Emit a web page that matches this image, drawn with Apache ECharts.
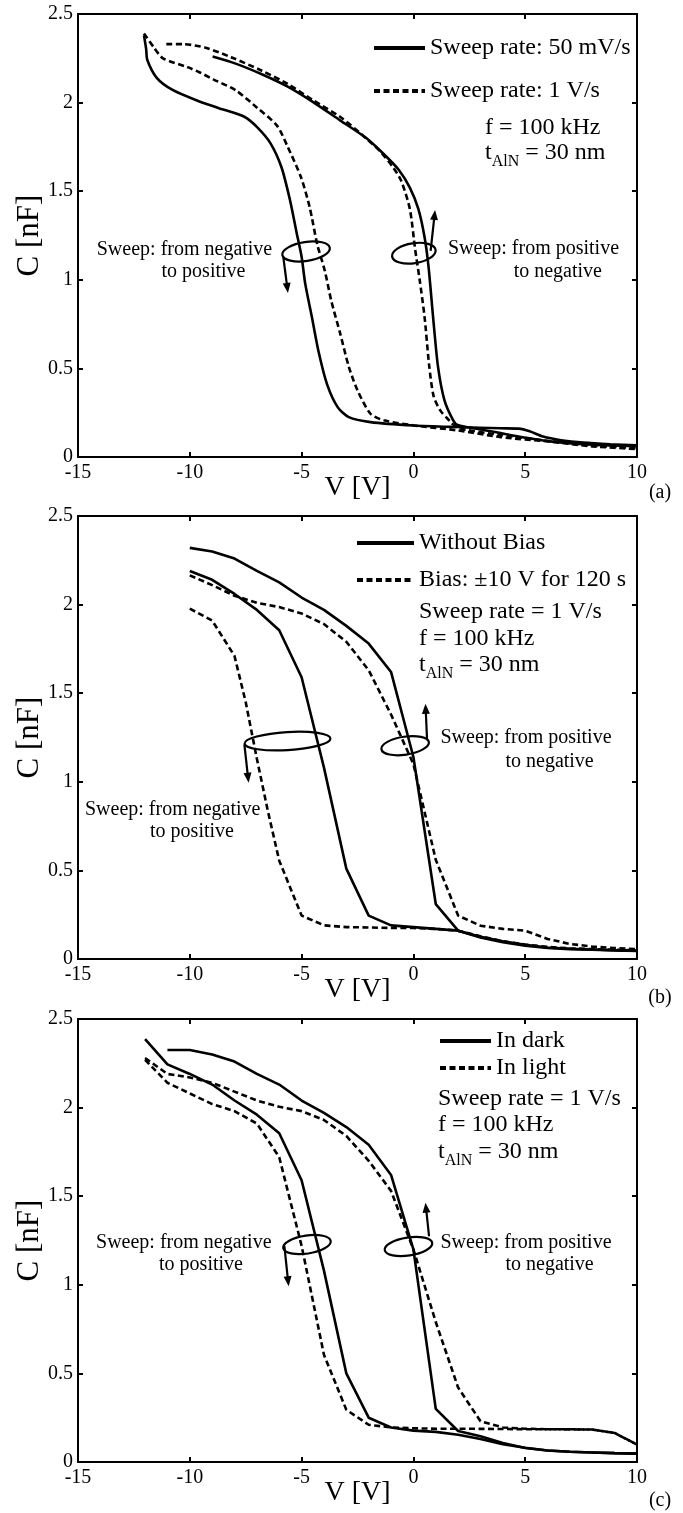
<!DOCTYPE html>
<html>
<head>
<meta charset="utf-8">
<script src="https://cdn.jsdelivr.net/npm/echarts@6/dist/echarts.min.js"></script>
<style>
  html, body { margin: 0; padding: 0; background: #fff; }
  #chart { width: 683px; height: 1513px; }
</style>
</head>
<body>
<div id="chart"></div>
<script>
// ---- panel (a): sweep rate comparison, [V, C] pairs ----
const aSlowUp = [
  [-12.05, 2.38], [-11.95, 2.3], [-11.9, 2.24], [-11.48, 2.14], [-10.75, 2.07],
  [-9.54, 2.005], [-8.73, 1.97], [-7.56, 1.92], [-6.98, 1.86], [-6.39, 1.77],
  [-5.9, 1.635], [-5.52, 1.45], [-5.23, 1.27], [-5.0, 1.13], [-4.84, 0.98],
  [-4.54, 0.79], [-4.25, 0.6], [-3.86, 0.41], [-3.38, 0.28], [-2.89, 0.225],
  [-1.92, 0.197], [0.03, 0.178], [1.98, 0.169], [3.92, 0.162], [4.7, 0.16],
  [5.2, 0.145], [5.8, 0.115], [6.6, 0.095], [7.6, 0.081], [8.8, 0.072], [10, 0.066]
];
const aSlowDown = [
  [-8.98, 2.26], [-7.95, 2.22], [-6.78, 2.16], [-5.62, 2.09], [-4.45, 2.0],
  [-3.28, 1.9], [-2.11, 1.8], [-1.33, 1.71], [-0.65, 1.62], [-0.16, 1.52],
  [0.22, 1.4], [0.5, 1.24], [0.68, 1.07], [0.88, 0.79], [1.1, 0.51],
  [1.39, 0.32], [1.78, 0.207], [1.98, 0.18], [3.0, 0.155], [3.9, 0.135],
  [4.5, 0.12], [6.1, 0.088], [8.0, 0.07], [10, 0.062]
];
const aFastUp = [
  [-12.05, 2.39], [-11.6, 2.31], [-11.2, 2.25], [-10.1, 2.2], [-9.55, 2.17],
  [-8.93, 2.13], [-7.95, 2.07], [-6.98, 1.97], [-6.1, 1.87], [-5.62, 1.75],
  [-5.03, 1.58], [-4.64, 1.41], [-4.3, 1.2], [-3.96, 1.05], [-3.67, 0.88],
  [-3.28, 0.7], [-2.89, 0.51], [-2.5, 0.376], [-1.92, 0.244], [-1.33, 0.207],
  [0.03, 0.178], [1.98, 0.15], [3.9, 0.112], [6.1, 0.087], [8.0, 0.06], [10, 0.045]
];
const aFastDown = [
  [-11.05, 2.33], [-10.3, 2.33], [-9.3, 2.31], [-8.15, 2.256], [-6.78, 2.18],
  [-5.62, 2.105], [-4.45, 2.01], [-3.28, 1.92], [-2.31, 1.82], [-1.53, 1.73],
  [-0.94, 1.64], [-0.55, 1.56], [-0.16, 1.4], [0.08, 1.17], [0.28, 1.0],
  [0.5, 0.79], [0.71, 0.51], [0.91, 0.34], [1.2, 0.263], [1.5, 0.22],
  [1.98, 0.165], [3.9, 0.125], [6.1, 0.09], [8.0, 0.065], [10, 0.05]
];

// ---- panel (b): bias stress, 1 V steps ----
const bVolts = [-10, -9, -8, -7, -6, -5, -4, -3, -2, -1, 0, 1, 2, 3, 4, 5, 6, 7, 8, 9, 10];
const bNoBiasDown = [2.32, 2.3, 2.26, 2.19, 2.125, 2.04, 1.97, 1.88, 1.78, 1.62, 1.14,
  0.31, 0.16, 0.122, 0.095, 0.075, 0.062, 0.056, 0.052, 0.048, 0.045];
const bNoBiasUp = [2.19, 2.14, 2.06, 1.97, 1.855, 1.59, 1.08, 0.51, 0.245, 0.19, 0.18,
  0.17, 0.16, 0.125, 0.1, 0.08, 0.065, 0.058, 0.054, 0.05, 0.047];
const bBiasDown = [2.165, 2.11, 2.05, 2.01, 1.986, 1.95, 1.89, 1.79, 1.63, 1.38, 1.1,
  0.56, 0.245, 0.188, 0.17, 0.16, 0.113, 0.085, 0.07, 0.062, 0.056];
const bBiasUpVolts = [-10, -9, -8, -7.5, -7, -6.5, -6, -5, -4, -3, -2, -1, 0, 1, 2, 3, 4, 5, 6, 7, 8, 9, 10];
const bBiasUp = [1.977, 1.91, 1.71, 1.45, 1.13, 0.83, 0.555, 0.245, 0.19, 0.18, 0.178,
  0.175, 0.175, 0.17, 0.16, 0.128, 0.1, 0.082, 0.068, 0.06, 0.056, 0.052, 0.05];

// ---- panel (c): dark vs light, 1 V steps ----
const cVolts = [-12, -11, -10, -9, -8, -7, -6, -5, -4, -3, -2, -1, 0, 1, 2, 3, 4, 5, 6, 7, 8, 9, 10];
const cDarkUp = [2.387, 2.244, 2.19, 2.13, 2.04, 1.96, 1.855, 1.59, 1.08, 0.5, 0.25, 0.195,
  0.177, 0.17, 0.154, 0.13, 0.1, 0.08, 0.065, 0.058, 0.054, 0.05, 0.047];
const cDarkDownVolts = [-11, -10, -9, -8, -7, -6, -5, -4, -3, -2, -1, 0, 1, 2, 3, 4, 5, 6, 7, 8, 9, 10];
const cDarkDown = [2.325, 2.325, 2.3, 2.26, 2.19, 2.13, 2.04, 1.97, 1.89, 1.79, 1.62, 1.2,
  0.3, 0.175, 0.145, 0.107, 0.079, 0.065, 0.058, 0.054, 0.05, 0.047];
const cLightUp = [2.27, 2.14, 2.08, 2.02, 1.98, 1.91, 1.72, 1.22, 0.605, 0.295, 0.21, 0.195,
  0.19, 0.188, 0.188, 0.187, 0.186, 0.185, 0.185, 0.184, 0.183, 0.164, 0.098];
const cLightDown = [2.28, 2.19, 2.17, 2.14, 2.09, 2.04, 2.005, 1.98, 1.93, 1.84, 1.7, 1.53,
  1.2, 0.79, 0.42, 0.23, 0.195, 0.188, 0.185, 0.185, 0.183, 0.164, 0.098];

const font = "'Liberation Serif', 'Times New Roman', serif";
const grids = [
  { left: 78, top: 14, width: 559, height: 443 },
  { left: 78, top: 516, width: 559, height: 443 },
  { left: 78, top: 1019, width: 559, height: 443 }
];

function pairs(vs, cs) {
  return vs.map((v, i) => [v, cs[i]]);
}

function curve(name, data, gi, dashed, smooth) {
  return {
    type: "line",
    name: name,
    data: data,
    xAxisIndex: gi * 2,
    yAxisIndex: gi * 2,
    symbol: "none",
    showSymbol: false,
    smooth: smooth || false,
    lineStyle: { color: "#000", width: 2.6, type: dashed ? [6, 3.5] : "solid" },
    itemStyle: { color: "#000" },
    z: 3
  };
}

const axisLine = { onZero: false, lineStyle: { color: "#000", width: 2 } };
const axisTick = { inside: true, length: 5, lineStyle: { color: "#000", width: 2 } };

const xAxes = [];
const yAxes = [];
grids.forEach((g, gi) => {
  xAxes.push({
    gridIndex: gi, type: "value", min: -15, max: 10, interval: 5,
    axisLine: axisLine, axisTick: axisTick, splitLine: { show: false },
    axisLabel: { color: "#000", fontFamily: font, fontSize: 20, margin: 6 },
    name: "V [V]", nameLocation: "middle", nameGap: 17, nameMoveOverlap: false,
    nameTextStyle: { color: "#000", fontFamily: font, fontSize: 28 }
  });
  xAxes.push({
    gridIndex: gi, type: "value", position: "top", min: -15, max: 10, interval: 5,
    axisLine: axisLine, axisTick: axisTick, splitLine: { show: false },
    axisLabel: { show: false }
  });
  yAxes.push({
    gridIndex: gi, type: "value", min: 0, max: 2.5, interval: 0.5,
    axisLine: axisLine, axisTick: axisTick, splitLine: { show: false },
    axisLabel: { color: "#000", fontFamily: font, fontSize: 20, margin: 5 },
    name: "C [nF]", nameLocation: "middle", nameGap: 33, nameRotate: 90, nameMoveOverlap: false,
    nameTextStyle: { color: "#000", fontFamily: font, fontSize: 31 }
  });
  yAxes.push({
    gridIndex: gi, type: "value", position: "right", min: 0, max: 2.5, interval: 0.5,
    axisLine: axisLine, axisTick: axisTick, splitLine: { show: false },
    axisLabel: { show: false }
  });
});

function legendItem(name, left, top, width) {
  return {
    data: [name], left: left, top: top, orient: "vertical", padding: 0,
    itemWidth: width, itemHeight: 14, selectedMode: false,
    textStyle: { color: "#000", fontFamily: font, fontSize: 24 },
    lineStyle: { width: 4 },
    itemStyle: { opacity: 0 }
  };
}

const option = {
  animation: false,
  backgroundColor: "#fff",
  textStyle: { fontFamily: font },
  grid: grids,
  xAxis: xAxes,
  yAxis: yAxes,
  legend: [
    legendItem("Sweep rate: 50 mV/s", 372, 36, 51),
    legendItem("Sweep rate: 1 V/s", 372, 79, 51),
    legendItem("Without Bias", 355, 531, 57),
    legendItem("Bias: \u00b110 V for 120 s", 355, 568, 57),
    legendItem("In dark", 438, 1029, 51),
    legendItem("In light", 438, 1056, 51)
  ],
  series: [
    curve("Sweep rate: 50 mV/s", aSlowUp, 0, false, 0.25),
    curve("Sweep rate: 50 mV/s", aSlowDown, 0, false, 0.25),
    curve("Sweep rate: 1 V/s", aFastUp, 0, true, 0.25),
    curve("Sweep rate: 1 V/s", aFastDown, 0, true, 0.25),
    curve("Without Bias", pairs(bVolts, bNoBiasDown), 1, false),
    curve("Without Bias", pairs(bVolts, bNoBiasUp), 1, false),
    curve("Bias: \u00b110 V for 120 s", pairs(bVolts, bBiasDown), 1, true),
    curve("Bias: \u00b110 V for 120 s", pairs(bBiasUpVolts, bBiasUp), 1, true),
    curve("In dark", pairs(cDarkDownVolts, cDarkDown), 2, false),
    curve("In dark", pairs(cVolts, cDarkUp), 2, false),
    curve("In light", pairs(cVolts, cLightDown), 2, true),
    curve("In light", pairs(cVolts, cLightUp), 2, true)
  ]
};

const chart = echarts.init(document.getElementById("chart"), null, { renderer: "canvas" });
chart.setOption(option);

// ---- annotations: ellipses + arrows anchored in data units ----
const rings = [
  { g: 0, at: [-4.8, 1.16], rx: 24, ry: 9.5, rot: 0.15 },
  { g: 0, at: [0.02, 1.15], rx: 22, ry: 10, rot: 0.15 },
  { g: 1, at: [-5.63, 1.23], rx: 43, ry: 9, rot: 0.06 },
  { g: 1, at: [-0.37, 1.204], rx: 24, ry: 9, rot: 0.15 },
  { g: 2, at: [-4.76, 1.227], rx: 24, ry: 9, rot: 0.15 },
  { g: 2, at: [-0.22, 1.216], rx: 24, ry: 9, rot: 0.15 }
];
const arrows = [
  { g: 0, from: [-5.82, 1.13], to: [-5.61, 0.926] },
  { g: 0, from: [0.77, 1.163], to: [0.97, 1.394] },
  { g: 1, from: [-7.56, 1.211], to: [-7.37, 0.995] },
  { g: 1, from: [0.61, 1.24], to: [0.54, 1.44] },
  { g: 2, from: [-5.77, 1.218], to: [-5.58, 0.992] },
  { g: 2, from: [0.7, 1.274], to: [0.54, 1.463] }
];
const notes = [
  ["Sweep: from negative", 184.5, 250], ["to positive", 203.5, 272],
  ["Sweep: from positive", 533.5, 249], ["to negative", 557.8, 272],
  ["Sweep: from negative", 172.7, 810], ["to positive", 192, 832],
  ["Sweep: from positive", 526, 738], ["to negative", 549.6, 762],
  ["Sweep: from negative", 183.8, 1243], ["to positive", 201, 1265],
  ["Sweep: from positive", 526, 1243], ["to negative", 549.6, 1265]
];
const infoLines = [
  ["f = 100 kHz", 485, 128], ["t", 485, 153],
  ["Sweep rate = 1 V/s", 419, 612], ["f = 100 kHz", 419, 639], ["t", 419, 665],
  ["Sweep rate = 1 V/s", 438, 1099], ["f = 100 kHz", 438, 1125], ["t", 438, 1152]
];
const panelTags = [["(a)", 660, 493], ["(b)", 660, 998], ["(c)", 660, 1501]];

const graphics = [];
rings.forEach(r => {
  const p = chart.convertToPixel({ gridIndex: r.g }, r.at);
  graphics.push({
    type: "ellipse", x: p[0], y: p[1], rotation: r.rot,
    shape: { cx: 0, cy: 0, rx: r.rx, ry: r.ry },
    style: { fill: "none", stroke: "#000", lineWidth: 2.2 }, z: 10
  });
});
arrows.forEach(a => {
  const p0 = chart.convertToPixel({ gridIndex: a.g }, a.from);
  const p1 = chart.convertToPixel({ gridIndex: a.g }, a.to);
  const dx = p1[0] - p0[0], dy = p1[1] - p0[1];
  const len = Math.sqrt(dx * dx + dy * dy);
  const ux = dx / len, uy = dy / len;
  const head = 10, half = 4;
  const bx = p1[0] - ux * head, by = p1[1] - uy * head;
  graphics.push({
    type: "line", shape: { x1: p0[0], y1: p0[1], x2: bx + ux * 2, y2: by + uy * 2 },
    style: { stroke: "#000", lineWidth: 2.2 }, z: 10
  });
  graphics.push({
    type: "polygon",
    shape: { points: [[p1[0], p1[1]], [bx - uy * half, by + ux * half], [bx + uy * half, by - ux * half]] },
    style: { fill: "#000" }, z: 10
  });
});
notes.forEach(n => {
  graphics.push({
    type: "text", x: n[1], y: n[2], z: 10,
    style: { text: n[0], fill: "#000", fontFamily: font, fontSize: 20, align: "center", verticalAlign: "middle" }
  });
});
infoLines.forEach(n => {
  const style = { fill: "#000", fontFamily: font, fontSize: 24, align: "left", verticalAlign: "middle" };
  if (n[0] === "t") {
    style.text = "{m|t}{s|AlN}{m| = 30 nm}";
    style.rich = {
      m: { fontFamily: font, fontSize: 24, fill: "#000" },
      s: { fontFamily: font, fontSize: 16, fill: "#000", padding: [18, 0, 0, 0] }
    };
  } else {
    style.text = n[0];
  }
  graphics.push({ type: "text", x: n[1], y: n[2], z: 10, style: style });
});
panelTags.forEach(n => {
  graphics.push({
    type: "text", x: n[1], y: n[2], z: 10,
    style: { text: n[0], fill: "#000", fontFamily: font, fontSize: 20, align: "center", verticalAlign: "middle" }
  });
});
chart.setOption({ graphic: graphics });
</script>
</body>
</html>
